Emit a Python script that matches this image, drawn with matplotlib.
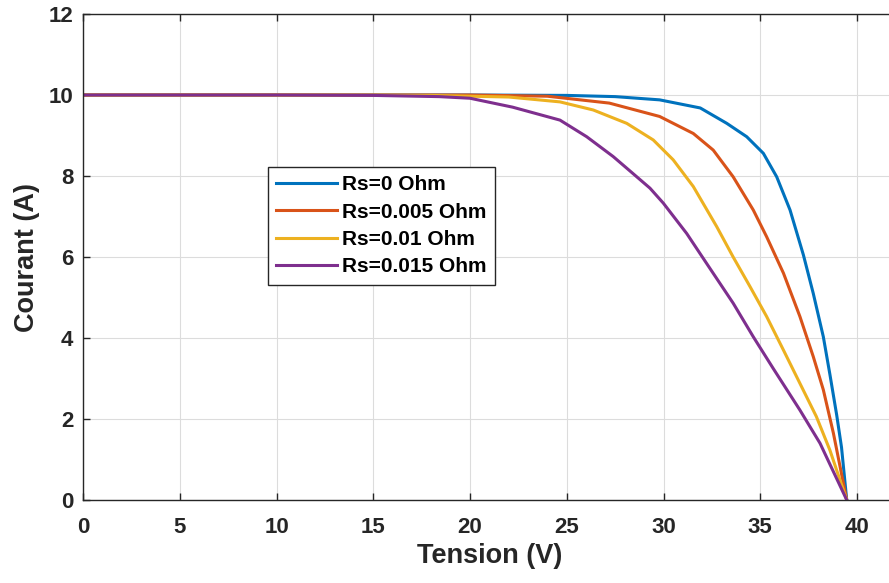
import matplotlib.pyplot as plt

# values (Tension in V, Courant in A)
v_rs0 = [0, 10, 20, 25, 27.5, 29.8, 31.9, 33.27, 34.3, 35.16, 35.85, 36.54, 37.23, 37.74, 38.26, 38.6, 38.95, 39.2, 39.47]
i_rs0 = [10, 10, 10, 9.99, 9.96, 9.88, 9.68, 9.3, 8.97, 8.56, 7.98, 7.16, 6.05, 5.1, 4.03, 3.1, 2.1, 1.3, 0]

v_rs005 = [0, 10, 20, 24, 27.2, 29.8, 31.54, 32.57, 33.6, 34.64, 35.33, 36.2, 37.05, 37.74, 38.26, 38.78, 39.47]
i_rs005 = [10, 10, 10, 9.97, 9.8, 9.47, 9.05, 8.64, 7.98, 7.16, 6.5, 5.6, 4.53, 3.54, 2.72, 1.65, 0]

v_rs01 = [0, 10, 18, 22, 24.65, 26.37, 28.1, 29.47, 30.5, 31.54, 32.75, 33.6, 34.47, 35.33, 36.2, 37.05, 37.9, 38.6, 39.47]
i_rs01 = [10, 10, 9.99, 9.95, 9.83, 9.63, 9.3, 8.89, 8.4, 7.74, 6.75, 6.0, 5.27, 4.53, 3.7, 2.88, 2.06, 1.23, 0]

v_rs015 = [0, 10, 15, 18.4, 20, 22.2, 24.65, 26.03, 27.4, 28.4, 29.3, 29.99, 31.2, 32.23, 33.6, 34.64, 35.68, 37.05, 38.09, 39.47]
i_rs015 = [10, 10, 9.99, 9.96, 9.92, 9.7, 9.38, 8.97, 8.48, 8.07, 7.7, 7.33, 6.58, 5.84, 4.86, 4.03, 3.24, 2.22, 1.4, 0]

labels = ['Rs=0 Ohm', 'Rs=0.005 Ohm', 'Rs=0.01 Ohm', 'Rs=0.015 Ohm']
colors = ['#0072BD', '#D95319', '#EDB120', '#7E2F8E']

plt.rcParams['font.family'] = ['Liberation Sans', 'DejaVu Sans']
plt.rcParams['font.weight'] = 'bold'

fig = plt.figure(figsize=(8.89, 5.83), dpi=100)
# the x axis runs to 42, just past the right edge of the picture
ax = fig.add_axes([83 / 889, 83 / 583, (42 * 19.35) / 889, 486 / 583])

series = [(v_rs0, i_rs0), (v_rs005, i_rs005), (v_rs01, i_rs01), (v_rs015, i_rs015)]
for (v, i), lab, c in zip(series, labels, colors):
    ax.plot(v, i, color=c, linewidth=2.2, label=lab, solid_joinstyle='round')

ax.set_xlim(0, 42)
ax.set_ylim(0, 12)
ax.set_xticks(range(0, 41, 5))
ax.set_yticks(range(0, 13, 2))
ax.grid(True, color='#dcdcdc', linewidth=0.8)
ax.set_axisbelow(True)
ax.tick_params(direction='in', length=5, width=1, top=True, right=True, labelsize=16, colors='#262626')
ax.tick_params(axis='x', pad=12)
ax.tick_params(axis='y', pad=7)
for s in ax.spines.values():
    s.set_color('#262626')
    s.set_linewidth(1)

ax.set_xlabel('Tension (V)', fontsize=19.5, fontweight='bold', color='#262626', labelpad=4)
ax.set_ylabel('Courant (A)', fontsize=19.5, fontweight='bold', color='#262626', labelpad=6)

leg = ax.legend(loc='upper left', bbox_to_anchor=(268 / 889, 1 - 167 / 583),
                bbox_transform=fig.transFigure, fontsize=15, handlelength=2.9,
                handletextpad=0.25, borderpad=0.4, labelspacing=0.4,
                fancybox=False, framealpha=1, borderaxespad=0)
leg.get_frame().set_edgecolor('#262626')
leg.get_frame().set_linewidth(1)

fig.savefig('out.png', dpi=100)
